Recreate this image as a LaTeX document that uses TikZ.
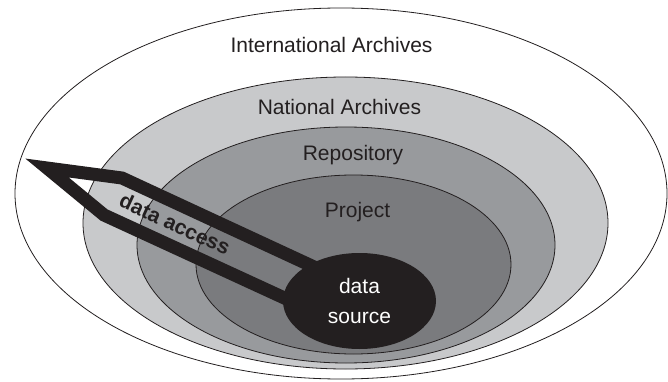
\documentclass[tikz,border=0pt]{standalone}
\usepackage{fontspec}
\setmainfont{Liberation Sans}
\usetikzlibrary{shapes.geometric}
\definecolor{natgray}{RGB}{200,201,203}
\definecolor{repgray}{RGB}{152,154,157}
\definecolor{projgray}{RGB}{122,123,126}
\definecolor{ink}{RGB}{35,31,32}
\newcommand{\lbl}{\fontsize{21}{30}\selectfont}

\begin{document}
\begin{tikzpicture}[x=1pt,y=-1pt,
   ring/.style={draw=ink,line width=0.8pt},
   lbltext/.style={text=ink,font=\lbl}]
   \useasboundingbox (0,0) rectangle (668,382);
   \filldraw[ring,fill=white] (341,193.5) ellipse (326pt and 185.5pt);
   \filldraw[ring,fill=natgray] (345.5,223) ellipse (262.5pt and 146pt);
   \filldraw[ring,fill=repgray] (346,245) ellipse (209pt and 118pt);
   \filldraw[ring,fill=projgray] (353.5,264.5) ellipse (157.5pt and 89.5pt);
   \coordinate (tip) at (47,168);
   \coordinate (ubend) at (122,178);
   \coordinate (uend) at (340,279);
   \coordinate (lend) at (330,319);
   \coordinate (lbend) at (104,215);
   \draw[ink,line width=13pt,line join=miter] (tip) -- (ubend) -- (uend) -- (lend) -- (lbend) -- cycle;
   \node[ellipse,fill=ink,minimum width=153pt,minimum height=96pt,inner sep=0pt,
         align=center,text=white,font=\lbl] (src) at (359.5,301) {data\\source};
   \node[lbltext] (intl) at (331.5,44.5) {International Archives};
   \node[lbltext] (natl) at (339.5,106.5) {National Archives};
   \node[lbltext] (repo) at (353,155.5) {Repository};
   \node[lbltext] (proj) at (357.5,212.5) {Project};
   \node[lbltext,font=\lbl\bfseries,rotate=-24.7] (access) at (175,224) {data access};
\end{tikzpicture}
\end{document}
